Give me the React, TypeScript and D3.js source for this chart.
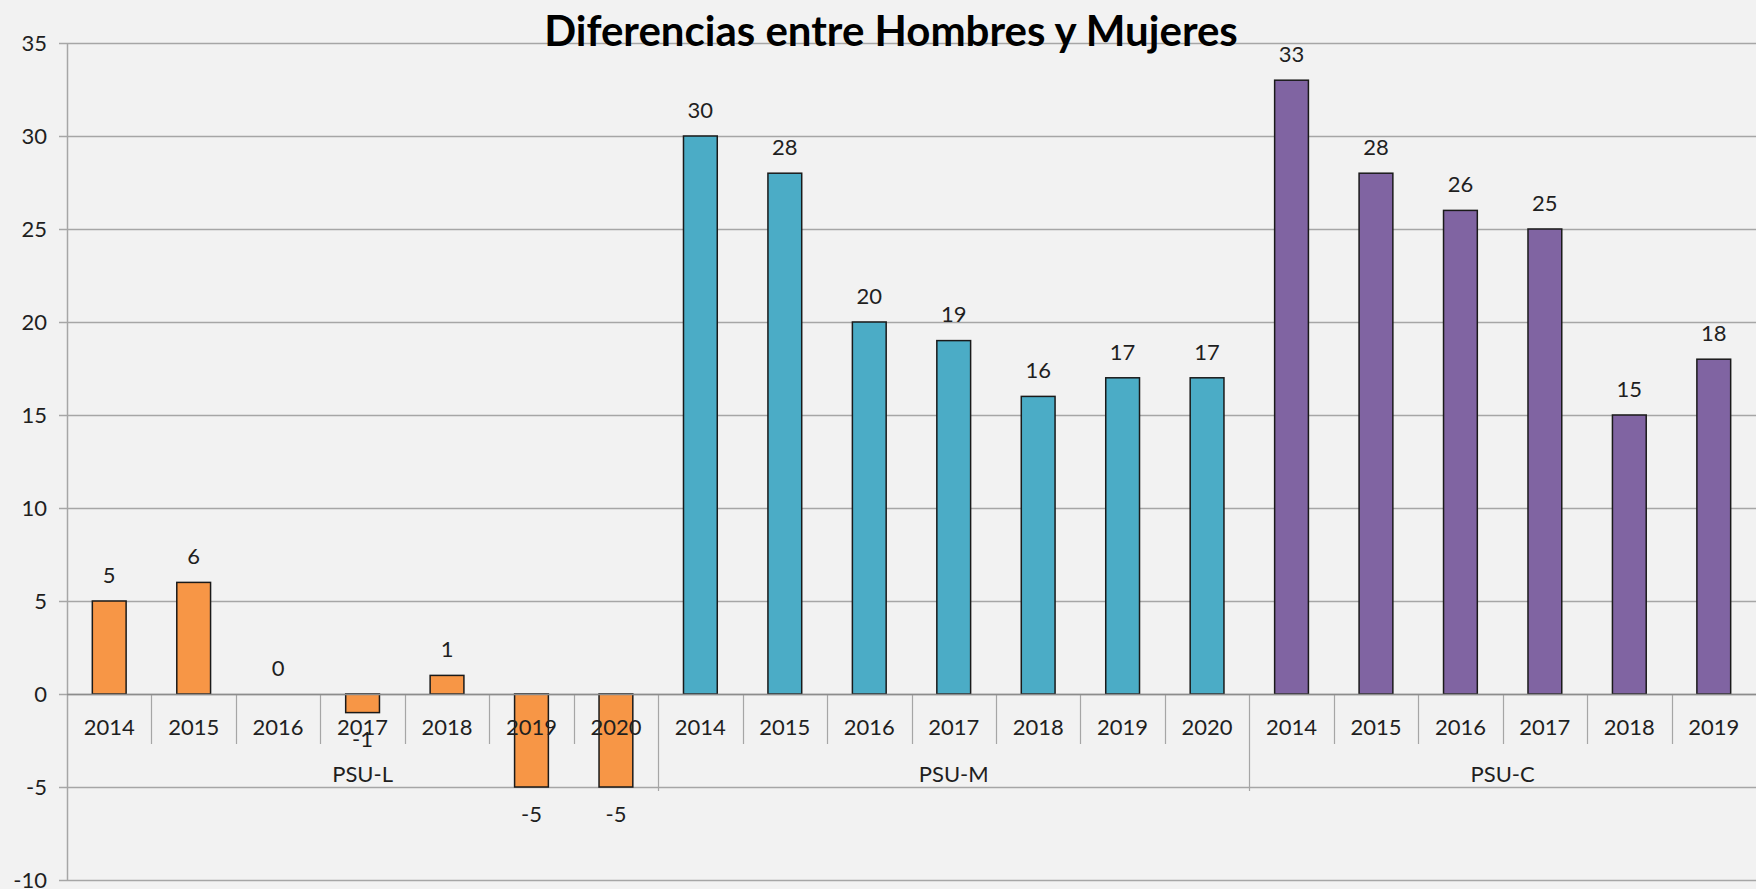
import React, { useEffect, useRef } from 'react';
import * as d3 from 'd3';

const title = "Diferencias entre Hombres y Mujeres";

const groups = ["PSU-L", "PSU-M", "PSU-C"];
const colors = ["#f79646", "#4bacc6", "#8064a2"];

const yearsL = ["2014", "2015", "2016", "2017", "2018", "2019", "2020"];
const valuesL = [5, 6, 0, -1, 1, -5, -5];

const yearsM = ["2014", "2015", "2016", "2017", "2018", "2019", "2020"];
const valuesM = [30, 28, 20, 19, 16, 17, 17];

const yearsC = ["2014", "2015", "2016", "2017", "2018", "2019"];
const valuesC = [33, 28, 26, 25, 15, 18];

const yTicks = [35, 30, 25, 20, 15, 10, 5, 0, -5, -10];

const WIDTH = 1756;
const HEIGHT = 889;
const FONT = "Lato, 'Open Sans', sans-serif";

export default function App() {
    const ref = useRef<SVGSVGElement>(null);

    useEffect(() => {
        const svg = d3.select(ref.current);
        svg.selectAll("*").remove();

        const margin = { top: 43, right: 0, bottom: 9, left: 67 };

        // flatten the groups into one row of categories
        const yearLists = [yearsL, yearsM, yearsC];
        const valueLists = [valuesL, valuesM, valuesC];
        const data: { key: string, year: string, value: number, group: number }[] = [];
        yearLists.forEach((years, g) => {
            years.forEach((yr, i) => {
                data.push({ key: g + "-" + yr, year: yr, value: valueLists[g][i], group: g });
            });
        });

        const x = d3.scaleBand()
            .domain(data.map(d => d.key))
            .range([margin.left, WIDTH - margin.right])
            .padding(0);
        const y = d3.scaleLinear()
            .domain([-10, 35])
            .range([HEIGHT - margin.bottom, margin.top]);

        svg.append("rect")
            .attr("width", WIDTH)
            .attr("height", HEIGHT)
            .attr("fill", "#f2f2f2");

        // gridlines
        svg.append("g")
            .selectAll("line")
            .data(yTicks)
            .enter().append("line")
            .attr("x1", margin.left - 8)
            .attr("x2", WIDTH - margin.right)
            .attr("y1", d => Math.round(y(d)) + 0.5)
            .attr("y2", d => Math.round(y(d)) + 0.5)
            .attr("stroke", "#a6a6a6")
            .attr("stroke-width", 1.5);

        // y axis line
        svg.append("line")
            .attr("x1", margin.left + 0.5)
            .attr("x2", margin.left + 0.5)
            .attr("y1", y(35))
            .attr("y2", y(-10))
            .attr("stroke", "#a6a6a6")
            .attr("stroke-width", 1.5);

        svg.append("g")
            .selectAll("text")
            .data(yTicks)
            .enter().append("text")
            .attr("x", margin.left - 20)
            .attr("y", d => y(d))
            .attr("dy", "0.35em")
            .attr("text-anchor", "end")
            .attr("font-family", FONT)
            .attr("font-size", 22)
            .attr("fill", "#1f1f1f")
            .text(d => d);

        const bw = x.bandwidth();
        const barW = bw * 0.4;
        const y0 = y(0);

        // category dividers
        svg.append("g")
            .selectAll("line")
            .data(data.slice(1))
            .enter().append("line")
            .attr("x1", d => Math.round(x(d.key)!) + 0.5)
            .attr("x2", d => Math.round(x(d.key)!) + 0.5)
            .attr("y1", y0)
            .attr("y2", d => d.year === "2014" ? y0 + 97 : y0 + 50)
            .attr("stroke", "#a6a6a6")
            .attr("stroke-width", 1.2);

        // bars
        svg.append("g")
            .selectAll("rect")
            .data(data)
            .enter().append("rect")
            .attr("x", d => x(d.key)! + (bw - barW) / 2)
            .attr("width", barW)
            .attr("y", d => y(Math.max(0, d.value)))
            .attr("height", d => Math.abs(y(d.value) - y0))
            .attr("fill", d => colors[d.group])
            .attr("stroke", d => d.value === 0 ? "none" : "#1a1a1a")
            .attr("stroke-width", 1.5);

        // x axis line over the bars
        svg.append("line")
            .attr("x1", margin.left)
            .attr("x2", WIDTH)
            .attr("y1", Math.round(y0) + 0.5)
            .attr("y2", Math.round(y0) + 0.5)
            .attr("stroke", "#8c8c8c")
            .attr("stroke-width", 1.5);

        // year labels
        svg.append("g")
            .selectAll("text")
            .data(data)
            .enter().append("text")
            .attr("x", d => x(d.key)! + bw / 2)
            .attr("y", y0 + 33)
            .attr("dy", "0.35em")
            .attr("text-anchor", "middle")
            .attr("font-family", FONT)
            .attr("font-size", 22)
            .attr("fill", "#1f1f1f")
            .text(d => d.year);

        // group labels
        svg.append("g")
            .selectAll("text")
            .data(groups)
            .enter().append("text")
            .attr("x", (g, i) => {
                const keys = data.filter(d => d.group === i).map(d => d.key);
                return (x(keys[0])! + x(keys[keys.length - 1])! + bw) / 2;
            })
            .attr("y", y0 + 80)
            .attr("dy", "0.35em")
            .attr("text-anchor", "middle")
            .attr("font-family", FONT)
            .attr("font-size", 22)
            .attr("fill", "#1f1f1f")
            .text(d => d);

        // value labels
        svg.append("g")
            .selectAll("text")
            .data(data)
            .enter().append("text")
            .attr("x", d => x(d.key)! + bw / 2)
            .attr("y", d => d.value < 0 ? y(d.value) + 27 : y(d.value) - 26)
            .attr("dy", "0.35em")
            .attr("text-anchor", "middle")
            .attr("font-family", FONT)
            .attr("font-size", 22)
            .attr("fill", "#1f1f1f")
            .text(d => d.value);

        svg.append("text")
            .attr("x", 891)
            .attr("y", 31)
            .attr("dy", "0.35em")
            .attr("text-anchor", "middle")
            .attr("font-family", FONT)
            .attr("font-weight", "bold")
            .attr("font-size", 42)
            .attr("fill", "#000")
            .text(title);
    }, []);

    return (
        <div style={{ position: "absolute", left: 0, top: 0 }}>
            <svg ref={ref} width={WIDTH} height={HEIGHT} style={{ display: "block" }}></svg>
        </div>
    );
}
